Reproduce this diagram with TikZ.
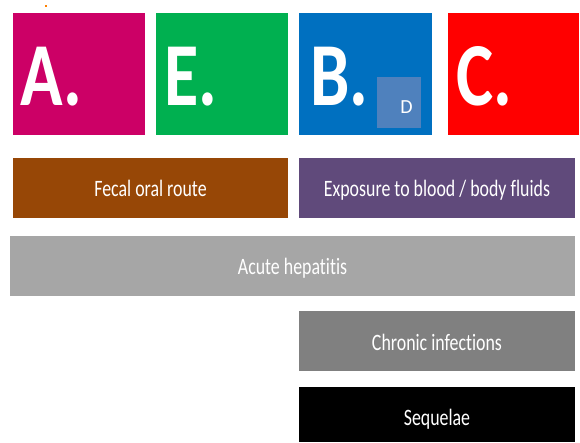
\documentclass[tikz,border=0pt]{standalone}
\usepackage{fontspec}
\setmainfont{Carlito}[Ligatures=NoCommon]
\definecolor{cA}{HTML}{CC0066}
\definecolor{cE}{HTML}{00B050}
\definecolor{cB}{HTML}{0070C0}
\definecolor{cC}{HTML}{FF0000}
\definecolor{cD}{HTML}{4F81BD}
\definecolor{cFec}{HTML}{974706}
\definecolor{cExp}{HTML}{604A7B}
\definecolor{cAcu}{HTML}{A6A6A6}
\definecolor{cChr}{HTML}{808080}
\newcommand{\condL}[1]{\scalebox{0.78}[1]{#1}}
\newcommand{\condT}[1]{\scalebox{0.76}[1]{#1}}
\begin{document}
\begin{tikzpicture}[x=1pt,y=-1pt,
  bigletter/.style={anchor=base west, text=white, font=\fontsize{90}{90}\selectfont\bfseries, inner sep=0pt},
  bartext/.style={anchor=base, text=white, font=\fontsize{23.5}{23.5}\selectfont, inner sep=0pt}]
\useasboundingbox (0,0) rectangle (580,442);
\fill[white] (0,0) rectangle (580,442);
% tiny orange mark
\fill[orange] (44.5,5) rectangle (47,7);
% top letter boxes
\fill[cA] (13,13) rectangle (145,135);
\fill[cE] (156,13) rectangle (288,135);
\fill[cB] (299,13) rectangle (432,135);
\fill[cC] (448,13) rectangle (579,135);
\node[bigletter] (lA) at (20,105) {\condL{A.}};
\node[bigletter] (lE) at (164,105) {\condL{E.}};
\node[bigletter] (lB) at (310,105) {\condL{B.}};
\node[bigletter] (lC) at (456,105) {\condL{C.}};
\fill[cD] (377,77) rectangle (421,128);
\node[anchor=base, text=white, font=\fontsize{20}{20}\selectfont, inner sep=0pt] (lD) at (406.5,113) {D};
% bars
\fill[cFec] (13,158) rectangle (288,218);
\node[bartext] (fec) at (150.5,196.5) {\condT{Fecal oral route}};
\fill[cExp] (299,158) rectangle (575,218);
\node[bartext] (exp) at (437,196.5) {\condT{Exposure to blood / body fluids}};
\fill[cAcu] (10,236) rectangle (575,296);
\node[bartext] (acu) at (292.5,274) {\condT{Acute hepatitis}};
\fill[cChr] (299,311) rectangle (575,371);
\node[bartext] (chr) at (437,350) {\condT{Chronic infections}};
\fill[black] (299,387) rectangle (575,442);
\node[bartext] (seq) at (437,425.5) {\condT{Sequelae}};
\end{tikzpicture}
\end{document}
